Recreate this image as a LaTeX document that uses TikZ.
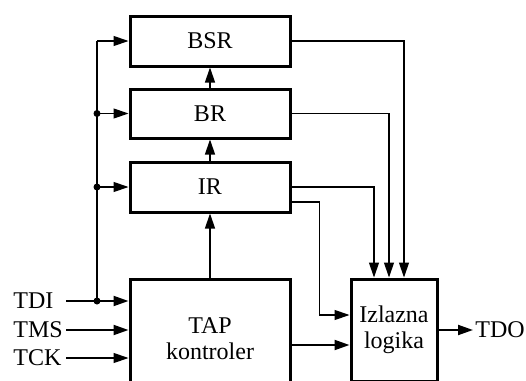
\documentclass[tikz,border=0pt]{standalone}
\usepackage{fontspec}
\setmainfont{Liberation Serif}
\usetikzlibrary{arrows.meta,positioning}

\begin{document}
\begin{tikzpicture}[x=0.5pt,y=-0.5pt,font=\fontsize{12pt}{13pt}\selectfont]
    \pgfmathsetmacro{\busx}{97}    % x of the TDI bus
    \pgfmathsetmacro{\inx}{66}     % where the input arrows start
    \pgfmathsetmacro{\blockx}{210}
    \tikzset{
        blok/.style={draw,line width=1.5pt,minimum width=80pt,inner sep=0pt,align=center},
        strel/.style={-{Triangle[length=7.5pt,width=5pt]},line width=0.6pt},
        debela/.style={line width=1pt},
        izlaz/.style={line width=0.6pt},
        signal/.style={inner sep=0pt,anchor=west},
        tacka/.style={circle,fill,inner sep=0pt,minimum size=3.5pt}
    }
    \useasboundingbox (0,0) rectangle (526,381);
    \clip (0,0) rectangle (526,381);
    \node[blok,minimum height=25pt] (bsr) at (\blockx,41) {BSR};
    \node[blok,minimum height=24.5pt] (br) at (\blockx,113.5) {BR};
    \node[blok,minimum height=25pt] (ir) at (\blockx,187) {IR};
    \node[blok,minimum height=60pt] (tap) at (\blockx,339) {TAP\\kontroler};
    \node[blok,minimum width=43pt,minimum height=51pt] (izl) at (394,330) {Izlazna\\logika};
    \node[signal] (tdi) at (13,301) {TDI};
    \node[signal] (tms) at (13,330) {TMS};
    \node[signal] (tck) at (13,358) {TCK};
    \node[signal] (tdo) at (475,330) {TDO};
    \coordinate (in) at (\inx,0);
    \coordinate (bus) at (\busx,0);
    % inputs
    \draw[strel,debela] (tdi.east -| in) -- (tdi.east -| tap.west);
    \draw[strel,debela] (tms.east -| in) -- (tms.east -| tap.west);
    \draw[strel] (tck.east -| in) -- (tck.east -| tap.west);
    \draw[izlaz] (tdi.east -| bus) -- (bsr.west -| bus);
    \draw[strel] (bsr.west -| bus) -- (bsr.west);
    \draw[strel] (br.west -| bus) -- (br.west);
    \draw[strel] (ir.west -| bus) -- (ir.west);
    \node[tacka] at (tdi.east -| bus) {};
    \node[tacka] at (br.west -| bus) {};
    \node[tacka] at (ir.west -| bus) {};
    % shift chain
    \draw[strel] (tap.north) -- (ir.south);
    \draw[strel] (ir.north) -- (br.south);
    \draw[strel] (br.north) -- (bsr.south);
    % outputs
    \draw[strel] (bsr.east) -| ([xshift=5pt]izl.north);
    \draw[strel] (br.east) -| ([xshift=-2.5pt]izl.north);
    \draw[strel] (ir.east) -| ([xshift=-10pt]izl.north);
    \draw[strel] ([yshift=-7.5pt]ir.east) -| ([xshift=-15pt,yshift=7.5pt]izl.west) -- ([yshift=7.5pt]izl.west);
    \draw[strel,debela] (tap.east |- 0,345) -- (izl.west |- 0,345);
    \draw[strel,debela] (izl.east |- tdo.west) -- ([xshift=-1pt]tdo.west);
\end{tikzpicture}
\end{document}
